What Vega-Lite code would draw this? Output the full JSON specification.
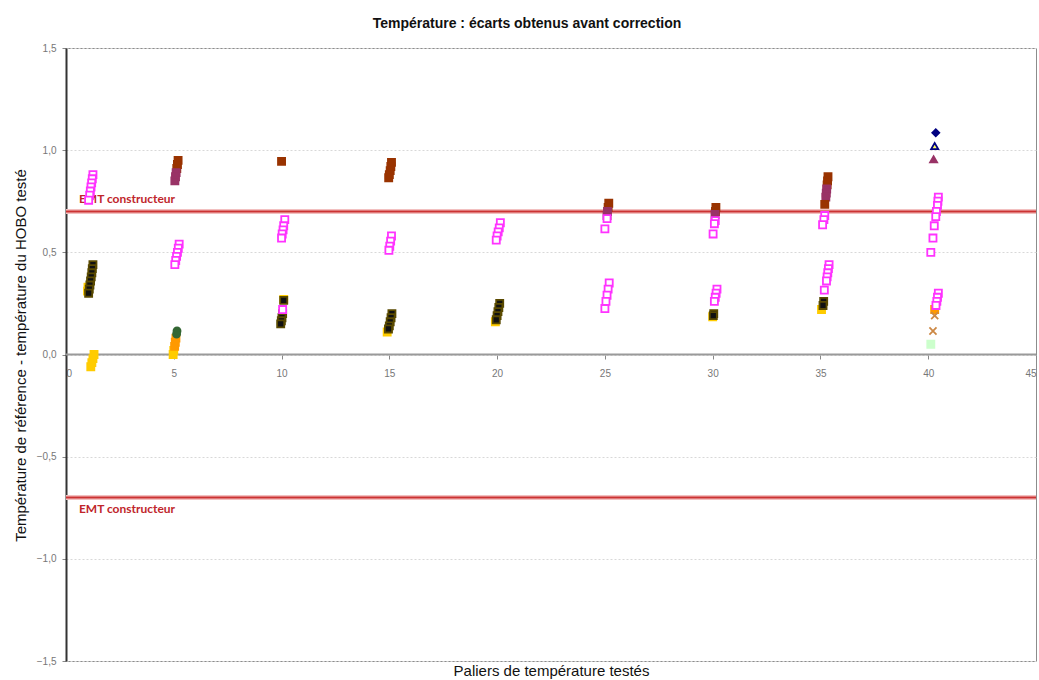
{
  "$schema": "https://vega.github.io/schema/vega-lite/v6.json",
  "width": 970,
  "height": 613,
  "autosize": {"type": "none"},
  "padding": {"left": 66, "top": 48, "right": 3, "bottom": 19},
  "background": "#ffffff",
  "config": {
    "view": {"stroke": "#8c8c8c", "strokeWidth": 1},
    "font": "Liberation Sans"
  },
  "title": {
    "text": "Température : écarts obtenus avant correction",
    "font": "Liberation Sans",
    "fontSize": 14,
    "fontWeight": "bold",
    "color": "#111111",
    "anchor": "middle",
    "dx": -24,
    "offset": 12
  },
  "datasets": {
    "points": [
      {"x": 1.0, "y": 0.31, "s": "jaune"},
      {"x": 1.02, "y": 0.33, "s": "jaune"},
      {"x": 1.25, "y": 0.44, "s": "noir"},
      {"x": 1.22, "y": 0.42, "s": "noir"},
      {"x": 1.2, "y": 0.4, "s": "noir"},
      {"x": 1.17, "y": 0.38, "s": "noir"},
      {"x": 1.14, "y": 0.36, "s": "noir"},
      {"x": 1.11, "y": 0.34, "s": "noir"},
      {"x": 1.08, "y": 0.32, "s": "noir"},
      {"x": 1.05, "y": 0.3, "s": "noir"},
      {"x": 1.3, "y": 0.0, "s": "jaune"},
      {"x": 1.25, "y": -0.02, "s": "jaune"},
      {"x": 1.2, "y": -0.04, "s": "jaune"},
      {"x": 1.15, "y": -0.06, "s": "jaune"},
      {"x": 1.25, "y": 0.88, "s": "mag"},
      {"x": 1.22, "y": 0.86, "s": "mag"},
      {"x": 1.19, "y": 0.84, "s": "mag"},
      {"x": 1.16, "y": 0.82, "s": "mag"},
      {"x": 1.13, "y": 0.8, "s": "mag"},
      {"x": 1.1, "y": 0.78, "s": "mag"},
      {"x": 1.05, "y": 0.755, "s": "mag"},

      {"x": 5.2, "y": 0.95, "s": "brun"},
      {"x": 5.17, "y": 0.93, "s": "brun"},
      {"x": 5.14, "y": 0.91, "s": "brun"},
      {"x": 5.11, "y": 0.89, "s": "violet"},
      {"x": 5.08, "y": 0.87, "s": "violet"},
      {"x": 5.05, "y": 0.85, "s": "violet"},
      {"x": 5.25, "y": 0.54, "s": "mag"},
      {"x": 5.21, "y": 0.52, "s": "mag"},
      {"x": 5.17, "y": 0.5, "s": "mag"},
      {"x": 5.13, "y": 0.48, "s": "mag"},
      {"x": 5.09, "y": 0.46, "s": "mag"},
      {"x": 5.05, "y": 0.44, "s": "mag"},
      {"x": 5.0, "y": 0.02, "s": "jaune"},
      {"x": 4.97, "y": 0.0, "s": "jaune"},
      {"x": 5.1, "y": 0.08, "s": "orange"},
      {"x": 5.07, "y": 0.06, "s": "orange"},
      {"x": 5.04, "y": 0.04, "s": "orange"},
      {"x": 5.15, "y": 0.115, "s": "vert"},
      {"x": 5.13, "y": 0.1, "s": "vert"},

      {"x": 10.0, "y": 0.945, "s": "brun"},
      {"x": 10.15, "y": 0.66, "s": "mag"},
      {"x": 10.1, "y": 0.63, "s": "mag"},
      {"x": 10.07, "y": 0.61, "s": "mag"},
      {"x": 10.03, "y": 0.59, "s": "mag"},
      {"x": 10.0, "y": 0.57, "s": "mag"},
      {"x": 10.1, "y": 0.27, "s": "jaune"},
      {"x": 10.1, "y": 0.265, "s": "noir"},
      {"x": 10.05, "y": 0.2, "s": "noir"},
      {"x": 10.02, "y": 0.18, "s": "noir"},
      {"x": 9.99, "y": 0.165, "s": "noir"},
      {"x": 9.96, "y": 0.15, "s": "noir"},
      {"x": 10.05, "y": 0.22, "s": "mag"},

      {"x": 15.1, "y": 0.94, "s": "brun"},
      {"x": 15.07, "y": 0.92, "s": "brun"},
      {"x": 15.04, "y": 0.9, "s": "brun"},
      {"x": 15.0, "y": 0.88, "s": "brun"},
      {"x": 14.97, "y": 0.865, "s": "brun"},
      {"x": 15.1, "y": 0.58, "s": "mag"},
      {"x": 15.06, "y": 0.555, "s": "mag"},
      {"x": 15.02, "y": 0.53, "s": "mag"},
      {"x": 14.98, "y": 0.51, "s": "mag"},
      {"x": 14.9, "y": 0.11, "s": "jaune"},
      {"x": 15.12, "y": 0.2, "s": "noir"},
      {"x": 15.08, "y": 0.18, "s": "noir"},
      {"x": 15.04, "y": 0.16, "s": "noir"},
      {"x": 15.0, "y": 0.14, "s": "noir"},
      {"x": 14.96, "y": 0.125, "s": "noir"},

      {"x": 20.15, "y": 0.645, "s": "mag"},
      {"x": 20.1, "y": 0.62, "s": "mag"},
      {"x": 20.05, "y": 0.6, "s": "mag"},
      {"x": 20.0, "y": 0.58, "s": "mag"},
      {"x": 19.96, "y": 0.56, "s": "mag"},
      {"x": 19.92, "y": 0.16, "s": "jaune"},
      {"x": 20.12, "y": 0.25, "s": "noir"},
      {"x": 20.08, "y": 0.23, "s": "noir"},
      {"x": 20.04, "y": 0.21, "s": "noir"},
      {"x": 20.0, "y": 0.19, "s": "noir"},
      {"x": 19.96, "y": 0.17, "s": "noir"},

      {"x": 25.18, "y": 0.74, "s": "brun"},
      {"x": 25.15, "y": 0.72, "s": "brun"},
      {"x": 25.12, "y": 0.7, "s": "violet"},
      {"x": 25.1, "y": 0.68, "s": "violet"},
      {"x": 25.1, "y": 0.665, "s": "mag"},
      {"x": 25.0, "y": 0.615, "s": "mag"},
      {"x": 25.2, "y": 0.35, "s": "mag"},
      {"x": 25.15, "y": 0.32, "s": "mag"},
      {"x": 25.1, "y": 0.29, "s": "mag"},
      {"x": 25.05, "y": 0.26, "s": "mag"},
      {"x": 25.0, "y": 0.225, "s": "mag"},

      {"x": 30.15, "y": 0.72, "s": "brun"},
      {"x": 30.13, "y": 0.7, "s": "brun"},
      {"x": 30.11, "y": 0.685, "s": "violet"},
      {"x": 30.12, "y": 0.655, "s": "mag"},
      {"x": 30.08, "y": 0.64, "s": "mag"},
      {"x": 30.02, "y": 0.59, "s": "mag"},
      {"x": 30.2, "y": 0.32, "s": "mag"},
      {"x": 30.16, "y": 0.3, "s": "mag"},
      {"x": 30.12, "y": 0.28, "s": "mag"},
      {"x": 30.08, "y": 0.26, "s": "mag"},
      {"x": 30.0, "y": 0.185, "s": "jaune"},
      {"x": 30.05, "y": 0.2, "s": "noir"},
      {"x": 30.03, "y": 0.19, "s": "noir"},

      {"x": 35.35, "y": 0.87, "s": "brun"},
      {"x": 35.33, "y": 0.85, "s": "brun"},
      {"x": 35.31, "y": 0.83, "s": "brun"},
      {"x": 35.29, "y": 0.81, "s": "violet"},
      {"x": 35.27, "y": 0.79, "s": "violet"},
      {"x": 35.25, "y": 0.77, "s": "violet"},
      {"x": 35.2, "y": 0.735, "s": "brun"},
      {"x": 35.2, "y": 0.68, "s": "mag"},
      {"x": 35.16, "y": 0.66, "s": "mag"},
      {"x": 35.1, "y": 0.635, "s": "mag"},
      {"x": 35.4, "y": 0.44, "s": "mag"},
      {"x": 35.37, "y": 0.42, "s": "mag"},
      {"x": 35.34, "y": 0.4, "s": "mag"},
      {"x": 35.31, "y": 0.38, "s": "mag"},
      {"x": 35.28, "y": 0.36, "s": "mag"},
      {"x": 35.18, "y": 0.315, "s": "mag"},
      {"x": 35.05, "y": 0.22, "s": "jaune"},
      {"x": 35.15, "y": 0.26, "s": "noir"},
      {"x": 35.12, "y": 0.24, "s": "noir"},

      {"x": 40.35, "y": 1.085, "s": "marine"},
      {"x": 40.3, "y": 1.02, "s": "jtri"},
      {"x": 40.25, "y": 0.955, "s": "vtri"},
      {"x": 40.47, "y": 0.77, "s": "mag"},
      {"x": 40.45, "y": 0.75, "s": "mag"},
      {"x": 40.43, "y": 0.73, "s": "mag"},
      {"x": 40.38, "y": 0.7, "s": "mag"},
      {"x": 40.35, "y": 0.675, "s": "mag"},
      {"x": 40.28, "y": 0.63, "s": "mag"},
      {"x": 40.22, "y": 0.57, "s": "mag"},
      {"x": 40.12, "y": 0.5, "s": "mag"},
      {"x": 40.3, "y": 0.22, "s": "orange"},
      {"x": 40.47, "y": 0.3, "s": "mag"},
      {"x": 40.43, "y": 0.28, "s": "mag"},
      {"x": 40.4, "y": 0.26, "s": "mag"},
      {"x": 40.36, "y": 0.24, "s": "mag"},
      {"x": 40.3, "y": 0.19, "s": "vx"},
      {"x": 40.22, "y": 0.115, "s": "vx"},
      {"x": 40.12, "y": 0.05, "s": "vclair"}
    ],
    "emt": [
      {"y": 0.7, "label": "EMT constructeur", "lx": 0.6},
      {"y": -0.7, "label": "EMT constructeur", "lx": 0.6}
    ],
    "zero": [{"y": 0}]
  },
  "layer": [
    {
      "data": {"name": "zero"},
      "mark": {"type": "rule", "color": "#9a9a9a", "strokeWidth": 2},
      "encoding": {
        "y": {
          "field": "y",
          "type": "quantitative",
          "scale": {"domain": [-1.5, 1.5], "nice": false},
          "axis": {
            "title": "Température de référence - température du HOBO testé",
            "titleFont": "Liberation Sans",
            "titleFontSize": 15,
            "titleFontWeight": "normal",
            "titleColor": "#111111",
            "titleX": -46,
            "titleY": 307,
            "titleAngle": -90,
            "titleAlign": "center",
            "titleBaseline": "middle",
            "values": [-1.5, -1, -0.5, 0, 0.5, 1, 1.5],
            "labelExpr": "replace(format(datum.value, '.1f'), '.', ',')",
            "labelFont": "Liberation Sans",
            "labelFontSize": 10,
            "labelColor": "#777777",
            "labelPadding": 6,
            "tickSize": 4,
            "tickColor": "#888888",
            "domainColor": "#333333",
            "domainWidth": 2,
            "grid": true,
            "gridColor": "#d8d8d8",
            "gridDash": [2, 2],
            "gridWidth": 1
          }
        }
      }
    },
    {
      "data": {"name": "emt"},
      "mark": {"type": "rule", "color": "#f2c0c0", "strokeWidth": 5},
      "encoding": {"y": {"field": "y", "type": "quantitative"}}
    },
    {
      "data": {"name": "emt"},
      "mark": {"type": "rule", "color": "#cc3333", "strokeWidth": 2},
      "encoding": {"y": {"field": "y", "type": "quantitative"}}
    },
    {
      "data": {"name": "emt"},
      "mark": {
        "type": "text",
        "font": "Lato",
        "fontSize": 12,
        "fontWeight": "bold",
        "color": "#c0262b",
        "align": "left",
        "baseline": {"expr": "datum.y > 0 ? 'bottom' : 'top'"},
        "dy": {"expr": "datum.y > 0 ? -5 : 6"}
      },
      "encoding": {
        "x": {"field": "lx", "type": "quantitative"},
        "y": {"field": "y", "type": "quantitative"},
        "text": {"field": "label"}
      }
    },
    {
      "data": {"name": "points"},
      "mark": {"type": "point", "filled": true, "size": 50, "strokeWidth": 1.8, "opacity": 1},
      "encoding": {
        "x": {
          "field": "x",
          "type": "quantitative",
          "scale": {"domain": [0, 45], "nice": false},
          "axis": {
            "title": "Paliers de température testés",
            "titleFont": "Liberation Sans",
            "titleFontSize": 15,
            "titleFontWeight": "normal",
            "titleColor": "#111111",
            "titleY": 315,
            "titleBaseline": "middle",
            "offset": -306,
            "values": [0, 5, 10, 15, 20, 25, 30, 35, 40, 45],
            "labelFont": "Liberation Sans",
            "labelFontSize": 10,
            "labelColor": "#777777",
            "labelPadding": 9,
            "tickSize": 4,
            "tickColor": "#888888",
            "domain": false,
            "grid": false
          }
        },
        "y": {"field": "y", "type": "quantitative"},
        "fill": {
          "field": "s",
          "type": "nominal",
          "legend": null,
          "scale": {
            "domain": ["mag", "brun", "violet", "noir", "jaune", "orange", "vert", "marine", "jtri", "vtri", "vx", "vclair"],
            "range": ["#ffffff", "#993300", "#993366", "#111111", "#ffcc00", "#ff9900", "#336633", "#000080", "#ffff66", "#993366", "#99cc66", "#ccffcc"]
          }
        },
        "stroke": {
          "field": "s",
          "type": "nominal",
          "legend": null,
          "scale": {
            "domain": ["mag", "brun", "violet", "noir", "jaune", "orange", "vert", "marine", "jtri", "vtri", "vx", "vclair"],
            "range": ["#ff33ff", "#993300", "#993366", "#5a4a00", "#ffcc00", "#ff9900", "#336633", "#000080", "#000080", "#993366", "#cc8844", "#ccffcc"]
          }
        },
        "shape": {
          "field": "s",
          "type": "nominal",
          "legend": null,
          "scale": {
            "domain": ["mag", "brun", "violet", "noir", "jaune", "orange", "vert", "marine", "jtri", "vtri", "vx", "vclair"],
            "range": ["square", "square", "square", "square", "square", "square", "circle", "diamond", "triangle-up", "triangle-up", "M-1,-1L1,1M-1,1L1,-1", "square"]
          }
        }
      }
    }
  ]
}
